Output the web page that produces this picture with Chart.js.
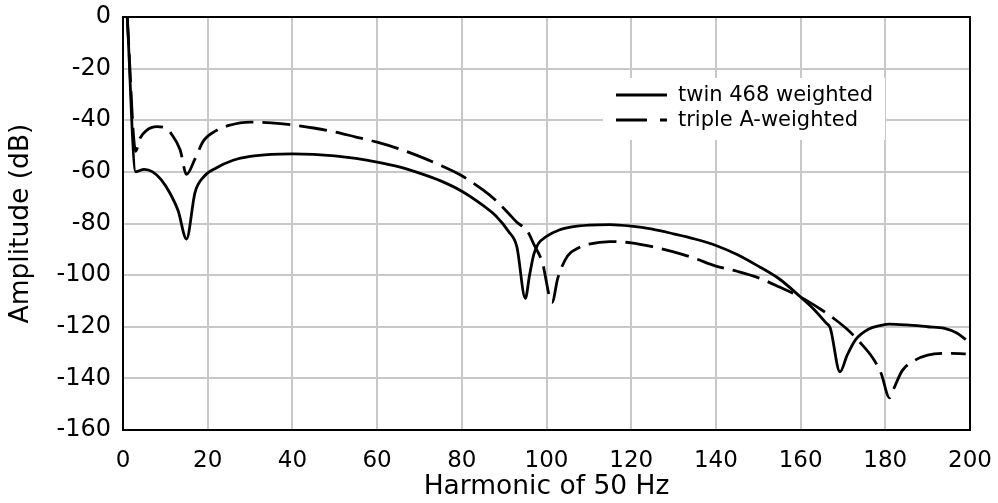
<!DOCTYPE html>
<html>
<head>
<meta charset="utf-8">
<script src="https://cdn.jsdelivr.net/npm/chart.js@4"></script>
<style>
  html, body { margin: 0; padding: 0; background: #fff; }
  #wrap { width: 998px; height: 503px; }
</style>
</head>
<body>
<div id="wrap"><canvas id="myChart" width="998" height="503"></canvas></div>
<script>
// harmonic number vs amplitude
var twinX = [1, 3, 5, 7, 9, 11, 13, 15, 17, 19, 22, 26, 30, 35, 40, 45, 50, 55, 60, 65, 70, 75, 80, 85, 88, 91, 93, 95, 96, 97, 98, 100, 103, 106, 110, 115, 120, 125, 130, 135, 140, 145, 150, 155, 160, 163, 166, 167, 169.3, 171, 173, 176, 179, 181, 185, 190, 194, 197, 199];
var twinY = [0, -60, -59, -60, -63, -68, -75, -86, -68, -62, -58.5, -55.5, -54, -53.2, -53, -53.2, -53.8, -54.8, -56.2, -58, -60.5, -63.5, -67.5, -73, -77, -83, -89, -109, -100, -92, -88, -85, -82.5, -81.3, -80.6, -80.4, -81, -82.2, -84, -86, -88.5, -92, -96.5, -101.5, -108.5, -113, -118.5, -120.5, -137.5, -131, -125, -121, -119.5, -119, -119.3, -120, -120.6, -122.5, -125];

var tripleX = [1, 3, 4, 5.5, 8, 10, 11.5, 13.5, 15, 17, 19, 22, 25, 30, 35, 40, 45, 50, 55, 60, 65, 70, 75, 80, 85, 88, 91, 93, 95.5, 97, 99, 101.3, 102.7, 105, 107.5, 110, 115, 120, 125, 130, 135, 140, 145, 150, 155, 160, 165, 168, 171, 174, 177, 179, 181, 182, 184, 187, 190, 195, 199];
var tripleY = [0, -52, -47, -44, -42.5, -43, -45.5, -51.5, -61, -55, -48, -44, -42, -40.7, -41, -41.8, -43, -44.5, -46.5, -48.5, -51, -54, -57.5, -61.5, -67, -71, -76, -79.5, -83, -88, -95, -110.5, -101, -92.5, -89.5, -88, -87, -87.5, -89, -91, -93.5, -96.5, -98.5, -101, -104.6, -108.5, -113.5, -117, -121, -126, -132, -138, -147.5, -144, -137, -133, -131, -130.3, -130.5];

var seriesNames = ["twin 468 weighted", "triple A-weighted"];
var xTicks = [0, 20, 40, 60, 80, 100, 120, 140, 160, 180, 200];
var yTicks = [0, -20, -40, -60, -80, -100, -120, -140, -160];

function toPoints(xs, ys) {
    var pts = [];
    for (var i = 0; i < xs.length; i++) pts.push({ x: xs[i], y: ys[i] });
    return pts;
}

// black frame round the plot, white legend box inside it
const framePlugin = {
    id: 'frame',
    beforeDatasetsDraw(chart) {
        const ctx = chart.ctx;
        ctx.save();
        ctx.fillStyle = '#fff';
        ctx.fillRect(603, 78, 282, 62);
        ctx.restore();
    },
    afterDatasetsDraw(chart) {
        const a = chart.chartArea, ctx = chart.ctx;
        ctx.save();
        ctx.strokeStyle = '#000';
        ctx.lineWidth = 2;
        ctx.strokeRect(a.left, a.top, a.right - a.left, a.bottom - a.top);
        // legend
        ctx.font = '21px "DejaVu Sans", Verdana, sans-serif';
        ctx.fillStyle = '#000';
        ctx.textBaseline = 'middle';
        var rows = [{ y: 95, dash: [] }, { y: 120, dash: [31, 13, 7, 100] }];
        for (var i = 0; i < rows.length; i++) {
            ctx.lineWidth = 2.8;
            ctx.setLineDash(rows[i].dash);
            ctx.beginPath();
            ctx.moveTo(616, rows[i].y);
            ctx.lineTo(667, rows[i].y);
            ctx.stroke();
            ctx.setLineDash([]);
            ctx.fillText(seriesNames[i], 678, rows[i].y + 1);
        }
        ctx.restore();
    }
};

const fam = '"DejaVu Sans", Verdana, sans-serif';
const ctx = document.getElementById('myChart');
new Chart(ctx, {
    type: 'line',
    data: {
        datasets: [{
            label: seriesNames[0],
            data: toPoints(twinX, twinY),
            borderColor: '#000',
            borderWidth: 2.8,
            pointRadius: 0,
            cubicInterpolationMode: 'monotone',
            fill: false
        }, {
            label: seriesNames[1],
            data: toPoints(tripleX, tripleY),
            borderColor: '#000',
            borderWidth: 2.8,
            borderDash: [28, 9],
            pointRadius: 0,
            cubicInterpolationMode: 'monotone',
            fill: false
        }]
    },
    options: {
        responsive: false,
        animation: false,
        layout: { padding: { top: 17, right: 28, left: 0, bottom: 0 } },
        plugins: { legend: { display: false }, tooltip: { enabled: false } },
        scales: {
            x: {
                type: 'linear',
                min: 0, max: 200,
                afterBuildTicks: function (s) { s.ticks = xTicks.map(function (v) { return { value: v }; }); },
                afterFit: function (s) { s.height = 73; s.paddingLeft = 0; s.paddingRight = 0; },
                grid: { color: '#c8c8c8', lineWidth: 2, drawTicks: false },
                border: { display: false },
                ticks: { color: '#000', font: { family: fam, size: 23 }, padding: 17, maxRotation: 0 },
                title: { display: true, text: 'Harmonic of 50 Hz', color: '#000',
                    font: { family: fam, size: 26.5 }, padding: { top: 0, bottom: 0 } }
            },
            y: {
                min: -160, max: 0,
                afterBuildTicks: function (s) { s.ticks = yTicks.map(function (v) { return { value: v }; }); },
                afterFit: function (s) { s.width = 123; s.paddingTop = 0; s.paddingBottom = 0; },
                grid: { color: '#c8c8c8', lineWidth: 2, drawTicks: false },
                border: { display: false },
                ticks: { color: '#000', font: { family: fam, size: 24 }, padding: 12 },
                title: { display: true, text: 'Amplitude (dB)', color: '#000',
                    font: { family: fam, size: 26.5 }, padding: { top: 5, bottom: 0 } }
            }
        }
    },
    plugins: [framePlugin]
});
</script>
</body>
</html>
